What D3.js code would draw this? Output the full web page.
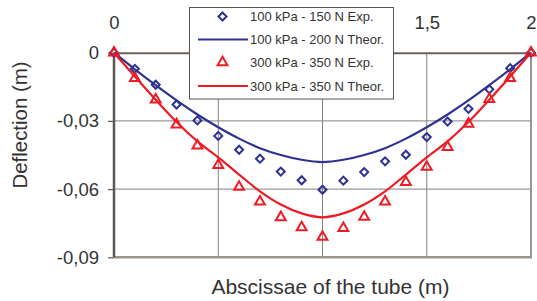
<!DOCTYPE html>
<html>
<head>
<meta charset="utf-8">
<script src="https://cdn.jsdelivr.net/npm/d3@7"></script>
<style>
  body { margin: 0; background: #fff; }
  text { font-family: "Liberation Sans", Arial, sans-serif; fill: #333; }
</style>
</head>
<body>
<svg width="537" height="301"></svg>
<script>
// abscissae (m)
var xExp = [0, 0.1, 0.2, 0.3, 0.4, 0.5, 0.6, 0.7, 0.8, 0.9, 1.0, 1.1, 1.2, 1.3, 1.4, 1.5, 1.6, 1.7, 1.8, 1.9, 2.0];
var exp100 = [0, -0.0071, -0.0141, -0.0228, -0.0298, -0.0366, -0.0427, -0.0466, -0.0523, -0.0561, -0.0603,
              -0.0563, -0.0525, -0.0478, -0.0449, -0.0371, -0.0303, -0.0247, -0.0161, -0.0068, 0];
var exp300 = [0, -0.0112, -0.0207, -0.0316, -0.0409, -0.0495, -0.0590, -0.0655, -0.0724, -0.0769, -0.0810,
              -0.0772, -0.0722, -0.0655, -0.0570, -0.0502, -0.0415, -0.0313, -0.0204, -0.0112, 0];
var theo100 = [0, -0.0073, -0.0143, -0.0210, -0.0272, -0.0328, -0.0378, -0.0420, -0.0450, -0.0471, -0.0481,
               -0.0471, -0.0450, -0.0420, -0.0378, -0.0328, -0.0272, -0.0210, -0.0143, -0.0073, 0];
var theo300 = [0, -0.0105, -0.0207, -0.0305, -0.0390, -0.0460, -0.0536, -0.0610, -0.0668, -0.0707, -0.0724,
               -0.0707, -0.0668, -0.0610, -0.0536, -0.0460, -0.0390, -0.0305, -0.0207, -0.0105, 0];
var xGrid = [0.5, 1, 1.5];
var xLabels = [0, 1.5, 2];   // 0,5 and 1 sit behind the legend
var yTicks = [0, -0.03, -0.06, -0.09];
var legendLabels = ["100 kPa - 150 N Exp.", "100 kPa - 200 N Theor.", "300 kPa - 350 N Exp.", "300 kPa - 350 N Theor."];

var blue = "#2e3192", red = "#ed1c24";
var fmt = function(d) { return d3.format("")(d).replace(".", ",").replace("−", "-"); };

var svg = d3.select("svg");
var x = d3.scaleLinear().domain([0, 2]).range([114, 531]);
var y = d3.scaleLinear().domain([-0.09, 0]).range([257.3, 52.7]);

// grid
svg.append("g").selectAll("line").data(xGrid).join("line")
  .attr("x1", d => x(d)).attr("x2", d => x(d))
  .attr("y1", y(0)).attr("y2", y(-0.09))
  .attr("stroke", "#808080").attr("stroke-width", 1);
svg.append("g").selectAll("line").data(yTicks.slice(1, 3)).join("line")
  .attr("x1", x(0)).attr("x2", x(2))
  .attr("y1", d => y(d)).attr("y2", d => y(d))
  .attr("stroke", "#808080").attr("stroke-width", 1);

// frame
svg.append("line").attr("x1", x(2)).attr("x2", x(2)).attr("y1", y(0)).attr("y2", y(-0.09))
  .attr("stroke", "#9a9590").attr("stroke-width", 2);
svg.append("line").attr("x1", x(0)).attr("x2", x(2) + 1).attr("y1", y(-0.09)).attr("y2", y(-0.09))
  .attr("stroke", "#9a9590").attr("stroke-width", 2.5);

// x axis (top, labels high)
var xAxis = svg.append("g").attr("transform", "translate(0," + y(0) + ")")
  .call(d3.axisTop(x).tickValues(xLabels).tickSize(0).tickPadding(24).tickFormat(fmt));
xAxis.select(".domain").attr("stroke", "#6b625c").attr("stroke-width", 2);
xAxis.selectAll("text").style("font-size", "18.5px").attr("fill", "#333");

// y axis
var yAxis = svg.append("g").attr("transform", "translate(" + x(0) + ",0)")
  .call(d3.axisLeft(y).tickValues(yTicks).tickSize(6).tickPadding(9).tickFormat(fmt));
yAxis.select(".domain").attr("stroke", "#5e5650").attr("stroke-width", 2.5).attr("d", "M0," + y(0) + "V" + y(-0.09));
yAxis.selectAll(".tick line").attr("stroke", "#5e5650").attr("stroke-width", 1.2);
yAxis.selectAll("text").style("font-size", "18.5px").attr("fill", "#333");

// theoretical curves
var line = d3.line().x((d, i) => x(xExp[i])).y(d => y(d)).curve(d3.curveMonotoneX);
svg.append("path").datum(theo100).attr("d", line).attr("fill", "none").attr("stroke", blue).attr("stroke-width", 2.2);
svg.append("path").datum(theo300).attr("d", line).attr("fill", "none").attr("stroke", red).attr("stroke-width", 2.2);

// markers
var diamond = d3.symbol().type(d3.symbolSquare).size(32);
var tri = d3.symbol().type(d3.symbolTriangle).size(42);
svg.append("g").selectAll("path").data(exp100).join("path")
  .attr("d", diamond)
  .attr("transform", (d, i) => "translate(" + x(xExp[i]) + "," + y(d) + ") rotate(45)")
  .attr("fill", "none").attr("stroke", blue).attr("stroke-width", 2);
svg.append("g").selectAll("path").data(exp300).join("path")
  .attr("d", tri)
  .attr("transform", (d, i) => "translate(" + x(xExp[i]) + "," + y(d) + ")")
  .attr("fill", "none").attr("stroke", red).attr("stroke-width", 2);

// legend
var lg = svg.append("g");
lg.append("rect").attr("x", 189.5).attr("y", 7.5).attr("width", 204).attr("height", 91.5)
  .attr("fill", "#fff").attr("stroke", "#555").attr("stroke-width", 1);
var rowY = [16.5, 39.5, 62.5, 86];
legendLabels.forEach(function(lab, i) {
  var col = i < 2 ? blue : red;
  if (i % 2 === 0) {
    lg.append("path").attr("d", i === 0 ? diamond : tri)
      .attr("transform", "translate(222.5," + rowY[i] + ")" + (i === 0 ? " rotate(45)" : ""))
      .attr("fill", "none").attr("stroke", col).attr("stroke-width", 2);
  } else {
    lg.append("line").attr("x1", 198).attr("x2", 248).attr("y1", rowY[i]).attr("y2", rowY[i])
      .attr("stroke", col).attr("stroke-width", 2.2);
  }
  lg.append("text").attr("x", 250).attr("y", rowY[i]).attr("dy", "0.36em")
    .style("font-size", "13px").text(lab);
});

// axis titles
svg.append("text").attr("transform", "translate(27,125) rotate(-90)")
  .attr("text-anchor", "middle").style("font-size", "20px")
  .attr("textLength", 127).attr("lengthAdjust", "spacingAndGlyphs").text("Deflection (m)");
svg.append("text").attr("x", 330.5).attr("y", 294)
  .attr("text-anchor", "middle").style("font-size", "21px").text("Abscissae of the tube (m)");
</script>
</body>
</html>
